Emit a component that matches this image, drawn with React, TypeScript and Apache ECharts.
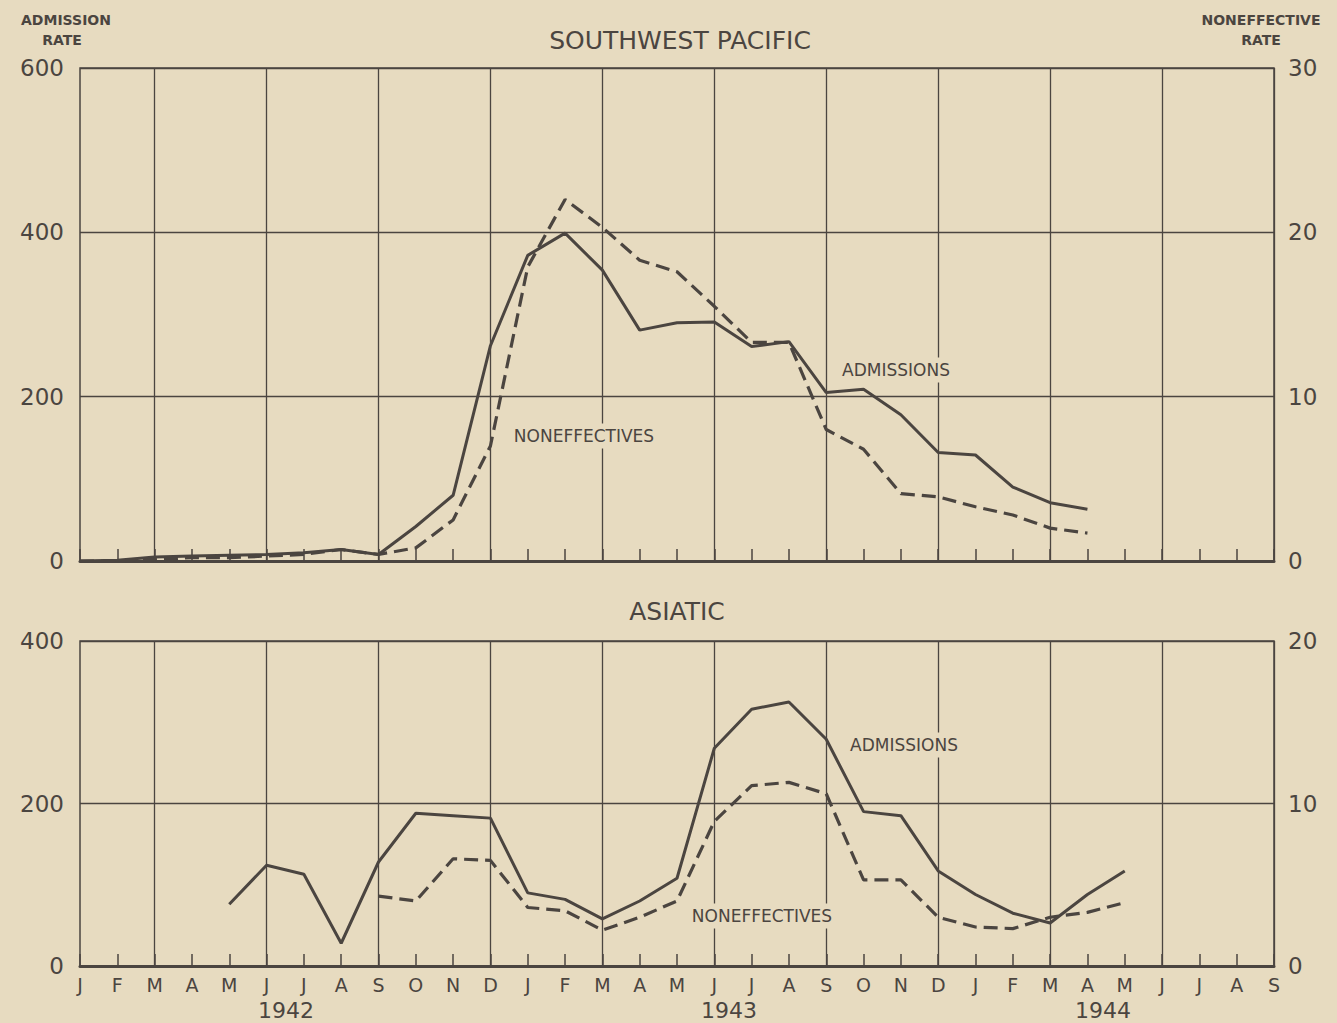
import React, { useEffect, useRef } from "react";
import * as echarts from "echarts";

const months = [
  "J", "F", "M", "A", "M", "J", "J", "A", "S", "O", "N", "D",
  "J", "F", "M", "A", "M", "J", "J", "A", "S", "O", "N", "D",
  "J", "F", "M", "A", "M", "J", "J", "A", "S",
];

const years = ["1942", "1943", "1944"];

// Southwest Pacific — admission rate (left axis) and noneffective rate (right axis)
const swpAdmissions = [
  0, 1, 5, 6, 7, 8, 10, 14, 8, 42, 80, 262,
  372, 399, 354, 281, 290, 291, 261, 267, 205, 209, 178, 132,
  129, 90, 71, 63, null, null, null, null, null,
];
const swpNoneffectives = [
  0, 0, 0.1, 0.2, 0.2, 0.3, 0.4, 0.7, 0.4, 0.8, 2.5, 7.0,
  17.9, 22.0, 20.3, 18.3, 17.6, 15.5, 13.3, 13.3, 8.0, 6.8, 4.1, 3.9,
  3.3, 2.8, 2.0, 1.7, null, null, null, null, null,
];

// Asiatic
const asiaAdmissions = [
  null, null, null, null, 76, 124, 113, 28, 128, 188, 185, 182,
  90, 82, 58, 80, 108, 268, 316, 325, 279, 190, 185, 117,
  88, 65, 53, 88, 117, null, null, null, null,
];
const asiaNoneffectives = [
  null, null, null, null, null, null, null, null, 4.3, 4.0, 6.6, 6.5,
  3.6, 3.4, 2.2, 3.0, 4.0, 8.9, 11.1, 11.3, 10.6, 5.3, 5.3, 3.0,
  2.4, 2.3, 3.0, 3.3, 3.9, null, null, null, null,
];

const leftTicksTop = { min: 0, max: 600, interval: 200 };
const rightTicksTop = { min: 0, max: 30, interval: 10 };
const leftTicksBottom = { min: 0, max: 400, interval: 200 };
const rightTicksBottom = { min: 0, max: 20, interval: 10 };

const BG = "#e7dbc0";
const INK = "#4b4540";
const FONT = "'DejaVu Sans', sans-serif";

export default function App() {
  const ref = useRef<HTMLDivElement>(null);

  useEffect(() => {
    if (!ref.current) return;
    const chart = echarts.init(ref.current, undefined, { renderer: "svg" });

    const xAxisBase = (gridIndex: number, showLabels: boolean) => ({
      type: "category",
      gridIndex,
      data: months,
      boundaryGap: false,
      axisLine: { show: true, lineStyle: { color: INK, width: 3 } },
      axisTick: {
        show: true,
        inside: true,
        length: 12,
        interval: 0,
        lineStyle: { color: INK, width: 1.5 },
      },
      axisLabel: {
        show: showLabels,
        interval: 0,
        margin: 9,
        color: INK,
        fontFamily: FONT,
        fontSize: 19,
        lineHeight: 20,
      },
      splitLine: {
        show: true,
        interval: (i: number) => i % 3 === 2,
        lineStyle: { color: INK, width: 1.3 },
      },
    });

    const yAxisBase = (
      gridIndex: number,
      position: "left" | "right",
      ticks: { min: number; max: number; interval: number },
      split: boolean
    ) => ({
      type: "value",
      gridIndex,
      position,
      min: ticks.min,
      max: ticks.max,
      interval: ticks.interval,
      axisLine: { show: false },
      axisTick: { show: false },
      axisLabel: {
        color: INK,
        fontFamily: FONT,
        fontSize: 23,
        margin: position === "left" ? 16 : 14,
      },
      splitLine: {
        show: split,
        lineStyle: { color: INK, width: 1.3 },
      },
    });

    const solid = { color: INK, width: 3 };
    const dashed = { color: INK, width: 3.2, type: [14, 7] };

    const annotation = (text: string, x: number, y: number) => ({
      type: "text",
      x,
      y,
      z: 100,
      style: {
        text,
        fill: INK,
        font: `17px ${FONT}`,
        align: "center",
        verticalAlign: "middle",
        textAlign: "center",
        textVerticalAlign: "middle",
        backgroundColor: BG,
        padding: [4, 5],
      },
    });

    const plainText = (
      text: string,
      x: number,
      y: number,
      size: number,
      weight = "normal"
    ) => ({
      type: "text",
      x,
      y,
      z: 100,
      style: {
        text,
        fill: INK,
        font: `${weight} ${size}px ${FONT}`,
        lineHeight: size + 1,
        align: "center",
        verticalAlign: "middle",
        textAlign: "center",
        textVerticalAlign: "middle",
      },
    });

    chart.setOption({
      animation: false,
      backgroundColor: BG,
      grid: [
        {
          left: 80,
          top: 68,
          width: 1194,
          height: 493,
          show: true,
          borderColor: INK,
          borderWidth: 1.5,
          backgroundColor: "transparent",
        },
        {
          left: 80,
          top: 641,
          width: 1194,
          height: 325,
          show: true,
          borderColor: INK,
          borderWidth: 1.5,
          backgroundColor: "transparent",
        },
      ],
      xAxis: [xAxisBase(0, false), xAxisBase(1, true)],
      yAxis: [
        yAxisBase(0, "left", leftTicksTop, true),
        yAxisBase(0, "right", rightTicksTop, false),
        yAxisBase(1, "left", leftTicksBottom, true),
        yAxisBase(1, "right", rightTicksBottom, false),
      ],
      series: [
        {
          name: "Southwest Pacific admissions",
          type: "line",
          xAxisIndex: 0,
          yAxisIndex: 0,
          data: swpAdmissions,
          symbol: "none",
          lineStyle: solid,
          connectNulls: false,
        },
        {
          name: "Southwest Pacific noneffectives",
          type: "line",
          xAxisIndex: 0,
          yAxisIndex: 1,
          data: swpNoneffectives,
          symbol: "none",
          lineStyle: dashed,
          connectNulls: false,
        },
        {
          name: "Asiatic admissions",
          type: "line",
          xAxisIndex: 1,
          yAxisIndex: 2,
          data: asiaAdmissions,
          symbol: "none",
          lineStyle: solid,
          connectNulls: false,
        },
        {
          name: "Asiatic noneffectives",
          type: "line",
          xAxisIndex: 1,
          yAxisIndex: 3,
          data: asiaNoneffectives,
          symbol: "none",
          lineStyle: dashed,
          connectNulls: false,
        },
      ],
      graphic: [
        plainText("SOUTHWEST PACIFIC", 680, 40, 25),
        plainText("ASIATIC", 677, 611, 25),
        plainText("ADMISSION", 66, 20, 14, "bold"),
        plainText("RATE", 62, 40, 14, "bold"),
        plainText("NONEFFECTIVE", 1261, 20, 14, "bold"),
        plainText("RATE", 1261, 40, 14, "bold"),
        plainText(years[0], 286, 1010, 22),
        plainText(years[1], 729, 1010, 22),
        plainText(years[2], 1103, 1010, 22),
        annotation("ADMISSIONS", 896, 370),
        annotation("NONEFFECTIVES", 584, 436),
        annotation("ADMISSIONS", 904, 745),
        annotation("NONEFFECTIVES", 762, 916),
      ],
    });

    return () => {
      chart.dispose();
    };
  }, []);

  return (
    <div
      style={{
        position: "fixed",
        left: 0,
        top: 0,
        width: 1337,
        height: 1023,
        background: BG,
      }}
    >
      <div ref={ref} style={{ width: 1337, height: 1023 }} />
    </div>
  );
}
